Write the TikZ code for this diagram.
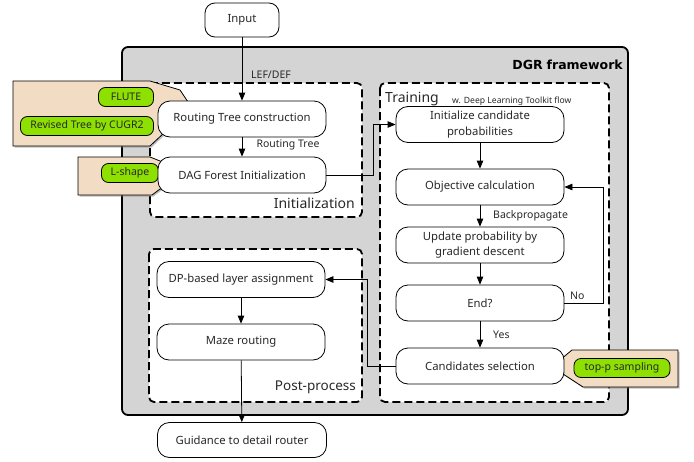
\documentclass[tikz,border=0pt]{standalone}
\usepackage{fontspec}
\setmainfont{Noto Sans}
\newfontfamily\titlefont{DejaVu Sans}
\usetikzlibrary{arrows.meta,shadows}
\definecolor{framegray}{RGB}{212,212,212}
\definecolor{calltan}{RGB}{243,220,196}
\definecolor{limegreen}{RGB}{142,224,0}
\definecolor{txt}{RGB}{40,40,40}
\begin{document}
\begin{tikzpicture}[x=1pt,y=-1pt,
 box/.style={draw, rounded corners=12pt, fill=white, minimum width=168pt, minimum height=36pt, align=center, font=\fontsize{11.3}{15.5}\selectfont, text=txt, line width=0.8pt, inner sep=2pt},
 pill/.style={draw, rounded corners=7pt, fill=limegreen, minimum height=19pt, font=\fontsize{10.5}{11}\selectfont, text=txt, inner xsep=4pt, inner ysep=0pt, line width=0.8pt},
 arr/.style={-{Triangle[length=8pt,width=6.5pt]}, line width=0.8pt},
 lbl/.style={font=\fontsize{10.5}{11}\selectfont, text=txt, inner sep=1pt},
 dbox/.style={draw, dash pattern=on 8pt off 4pt, line width=1.8pt, rounded corners=5pt, fill=white},
 callout/.style={fill=calltan, draw, line width=0.8pt, drop shadow={shadow xshift=1.5pt, shadow yshift=-1.5pt, opacity=0.5}},
 grp/.style={font=\fontsize{14}{16}\selectfont, text=txt, inner sep=1pt}
]
\useasboundingbox (0,0) rectangle (694,461);
% frame
\draw[fill=framegray, line width=1.8pt, rounded corners=6pt] (122,47) rectangle (628,415);
\node[font=\titlefont\bfseries\fontsize{12.5}{14}\selectfont, anchor=east, inner sep=1pt] (dgr) at (624,65) {DGR\hspace{4pt}framework};
% dashed groups
\draw[dbox] (150,83) rectangle (362,217);
\draw[dbox] (380,83) rectangle (609,402);
\draw[dbox] (149,249) rectangle (362,402);
\node[grp, anchor=east] (initlbl) at (356,203) {Initialization};
\node[grp, anchor=east, font=\fontsize{13.5}{16}\selectfont] (postlbl) at (357,387) {Post-process};
\node[grp, anchor=west] (trainlbl) at (384,99) {Training};
\node[anchor=west, font=\fontsize{8.6}{10}\selectfont, text=txt, inner sep=1pt] (dltlbl) at (451,101) {w. Deep Learning Toolkit flow};
% callouts
\draw[callout] (13,81) -- (150,81) -- (180,90) -- (190,105) -- (190,130) -- (165,132) -- (150,146) -- (13,146) -- cycle;
\draw[callout] (78,157) -- (150,157) -- (165,163) -- (175,170) -- (175,185) -- (160,189) -- (152,195) -- (78,195) -- cycle;
\draw[callout] (560,360) -- (572,350) -- (678,350) -- (678,387) -- (583,387) -- (560,372) -- cycle;
\node[pill, minimum width=55pt] (flute) at (126,97) {FLUTE};
\node[pill, minimum width=133pt] (cugr) at (87,126) {Revised Tree by CUGR2};
\node[pill, minimum width=57pt] (lshape) at (130,173) {L-shape};
\node[pill, minimum width=96pt] (topp) at (622,368) {top-p sampling};
% nodes
\node[box, minimum width=74pt, minimum height=34pt, rounded corners=10pt] (input) at (242,20) {Input};
\node[box] (rtc) at (242,119) {Routing Tree construction};
\node[box] (dag) at (242,175) {DAG Forest Initialization};
\node[box] (init) at (480,124.5) {Initialize candidate\\probabilities};
\node[box] (obj) at (480,187) {Objective calculation};
\node[box] (upd) at (480,245) {Update probability by\\gradient descent};
\node[box] (end) at (480,303) {End?};
\node[box] (cand) at (480,366) {Candidates selection};
\node[box] (dp) at (241,279.5) {DP-based layer assignment};
\node[box] (maze) at (241,342) {Maze routing};
\node[box, minimum width=169pt, minimum height=35pt] (guide) at (242,440) {Guidance to detail router};
% connectors
\draw[arr] (input) -- (rtc);
\node[lbl, anchor=west] (lef) at (250,75) {LEF/DEF};
\draw[arr] (rtc) -- (dag);
\node[lbl] (rtlbl) at (288,145) {Routing Tree};
\draw[arr] (dag.east) -- ++(47,0) |- (init.west);
\draw[arr] (init) -- (obj);
\draw[arr] (obj) -- (upd);
\node[lbl, anchor=west] (bplbl) at (492,216) {Backpropagate};
\draw[arr] (upd) -- (end);
\draw[arr] (end) -- (cand);
\node[lbl, anchor=west] (yeslbl) at (492,335) {Yes};
\draw[arr] (end.east) -- ++(39,0) |- (obj.east);
\node[lbl, anchor=west] (nolbl) at (569,296) {No};
\draw[arr] (cand.west) -- ++(-28,0) |- (dp.east);
\draw[arr] (dp) -- (maze);
\draw[arr] (maze) -- (guide);
\end{tikzpicture}
\end{document}
